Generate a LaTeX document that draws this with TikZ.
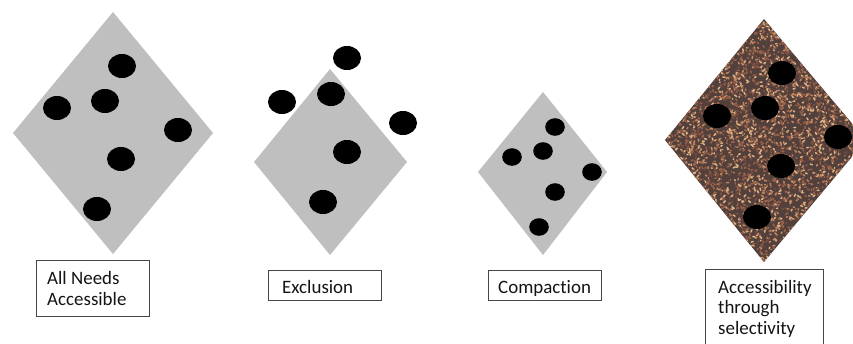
\documentclass[tikz,border=0pt]{standalone}
\usepackage{fontspec}
\setmainfont{Carlito}[Ligatures={NoCommon}]
\definecolor{diagray}{RGB}{191,191,191}
\definecolor{boxgray}{RGB}{70,70,70}
\definecolor{txtgray}{RGB}{20,20,20}
\definecolor{grbase}{RGB}{82,64,60}
\definecolor{grA}{RGB}{152,98,74}
\definecolor{grB}{RGB}{196,136,98}
\definecolor{grC}{RGB}{118,76,62}
\definecolor{grD}{RGB}{222,180,136}
\begin{document}
\begin{tikzpicture}[x=1bp,y=-1bp,
  dia/.style={fill=diagray},
  hole/.style={fill=black},
  smallhole/.style={fill=black},
  lbox/.style={draw=boxgray, line width=1bp},
  ltext/.style={font=\fontsize{19}{20.5}\selectfont, align=left, inner sep=0, text=txtgray}]
\clip (0,0) rectangle (853,343);
\fill[white] (0,0) rectangle (853,343);

% diamond 1
\fill[dia] (113,12) -- (213,133) -- (113,254) -- (13,133) -- cycle;
\foreach \px/\py in {122/66, 57/108, 105/101, 178/130, 121/159, 97/209}
  \fill[hole] (\px,\py) ellipse [x radius=14, y radius=12];

% diamond 2
\fill[dia] (330,69) -- (407,162) -- (330,255) -- (254,162) -- cycle;
\foreach \px/\py in {347/58, 282/102, 331/94, 403/123, 347/152, 323/202}
  \fill[hole] (\px,\py) ellipse [x radius=14, y radius=12];

% diamond 3
\fill[dia] (543,92) -- (607,172) -- (543,255) -- (478,172) -- cycle;
\foreach \px/\py in {555/127, 512/157, 543/151, 592/172, 555/192, 539/227}
  \fill[smallhole] (\px,\py) ellipse [x radius=9.8, y radius=8.8];

% diamond 4 (textured)
\begin{scope}
  \clip (764,19) -- (866,140) -- (764,262) -- (665,140) -- cycle;
  \fill[grbase] (660,15) rectangle (870,265);
  \pgfmathsetseed{7}
  \foreach \i in {1,...,5200} {
    \pgfmathsetmacro{\gx}{665+201*rnd}
    \pgfmathsetmacro{\gy}{19+243*rnd}
    \pgfmathsetmacro{\gdx}{2.2*rand}
    \pgfmathsetmacro{\gdy}{2.2*rand}
    \pgfmathtruncatemacro{\gc}{int(5*rnd)}
    \ifcase\gc\relax
      \def\gcol{grA}\or\def\gcol{grB}\or\def\gcol{grC}\or\def\gcol{grA}\or\def\gcol{grD}\else\def\gcol{grA}\fi
    \draw[\gcol, line width=1.5bp, line cap=round] (\gx,\gy) -- ++(\gdx,\gdy);
  }
\end{scope}
\foreach \px/\py in {717/116, 782/73, 765/108, 838/137, 781/166, 757/217}
  \fill[hole] (\px,\py) ellipse [x radius=14, y radius=12];

% labels
\draw[lbox] (36,260) rectangle (149,316);
\node[ltext, anchor=base west] (t1) at (47,305) {All Needs\\Accessible};
\draw[lbox] (268,270) rectangle (381,300);
\node[ltext, anchor=base west] (t2) at (282,293) {Exclusion};
\draw[lbox] (488,270) rectangle (601,300);
\node[ltext, anchor=base west] (t3) at (498,293) {Compaction};
\draw[lbox] (705,269) rectangle (823,360);
\node[ltext, anchor=base west] (t4) at (718,334) {Accessibility\\through\\selectivity};
\end{tikzpicture}
\end{document}
